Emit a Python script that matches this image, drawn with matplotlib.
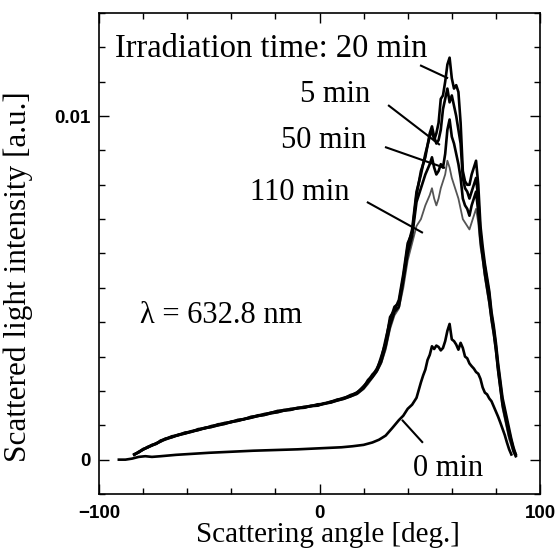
import matplotlib
matplotlib.use("Agg")
import matplotlib.pyplot as plt
from matplotlib.ticker import MultipleLocator

# ---------------- data (intensity in a.u.) ----------------
angle_irr = [-84, -82, -80, -78, -76, -74, -72, -70, -67, -64, -61, -58, -55, -52, -49, -46,
             -43, -40, -37, -34, -31, -28, -25, -22, -19, -16, -13, -10, -7, -4, -1, 2, 5, 8,
             11, 14, 17, 20, 22, 24, 26, 28, 30, 32, 34, 36,
             38, 40, 42, 44, 46, 48, 50,
             51, 52, 53, 54, 55, 56, 57, 58, 59, 60, 61, 62, 63, 64, 65, 66, 67, 68, 69, 70,
             71, 72, 73, 74, 75, 76, 77, 78, 79, 80, 81, 82, 83, 84, 85, 86, 87, 88, 89]

int_20min = [0.00015, 0.00022, 0.00031, 0.00035, 0.00043, 0.00046, 0.00056, 0.00059, 0.00068, 0.00071,
             0.00079, 0.00081, 0.00089, 0.00091, 0.00098, 0.00101, 0.00107, 0.00109, 0.00116, 0.00118,
             0.00125, 0.00127, 0.00133, 0.00136, 0.00142, 0.00143, 0.00148, 0.00149, 0.00154, 0.00155,
             0.00161, 0.00162, 0.00169, 0.00173, 0.00180, 0.00185, 0.00196, 0.00210, 0.00232, 0.00244,
             0.00265, 0.00292, 0.00350, 0.00405, 0.00445, 0.00455,
             0.00530, 0.00620, 0.00670, 0.00780, 0.00830, 0.00890, 0.00940,
             0.00960, 0.00930, 0.00950, 0.00980, 0.01050, 0.01060, 0.01100, 0.01150, 0.01170, 0.01110,
             0.01080, 0.01090, 0.01070, 0.00980, 0.00840, 0.00810, 0.00800, 0.00800, 0.00830, 0.00850,
             0.00870, 0.00800, 0.00680, 0.00620, 0.00570, 0.00530, 0.00490, 0.00430, 0.00390, 0.00340,
             0.00280, 0.00230, 0.00180, 0.00150, 0.00120, 0.00090, 0.00060, 0.00035, 0.00015]

int_5min = [0.00014, 0.00023, 0.00029, 0.00037, 0.00042, 0.00048, 0.00054, 0.00061, 0.00066, 0.00073,
            0.00077, 0.00083, 0.00087, 0.00093, 0.00096, 0.00103, 0.00105, 0.00111, 0.00114, 0.00119,
            0.00123, 0.00129, 0.00131, 0.00137, 0.00140, 0.00145, 0.00146, 0.00151, 0.00152, 0.00157,
            0.00158, 0.00164, 0.00167, 0.00175, 0.00178, 0.00188, 0.00194, 0.00214, 0.00228, 0.00248,
            0.00260, 0.00300, 0.00340, 0.00415, 0.00435, 0.00465,
            0.00540, 0.00630, 0.00660, 0.00770, 0.00840, 0.00880, 0.00950,
            0.00970, 0.00940, 0.00920, 0.00930, 0.00960, 0.01020, 0.01050, 0.01080, 0.01040, 0.01060,
            0.01030, 0.01000, 0.00960, 0.00920, 0.00820, 0.00790, 0.00780, 0.00760, 0.00780, 0.00800,
            0.00820, 0.00760, 0.00660, 0.00600, 0.00560, 0.00520, 0.00480, 0.00420, 0.00380, 0.00330,
            0.00270, 0.00220, 0.00170, 0.00140, 0.00110, 0.00080, 0.00055, 0.00030, 0.00015]

int_50min = [0.00016, 0.00021, 0.00030, 0.00036, 0.00041, 0.00047, 0.00053, 0.00060, 0.00065, 0.00072,
             0.00076, 0.00082, 0.00086, 0.00092, 0.00095, 0.00100, 0.00104, 0.00110, 0.00113, 0.00118,
             0.00122, 0.00127, 0.00130, 0.00135, 0.00138, 0.00143, 0.00145, 0.00150, 0.00151, 0.00156,
             0.00157, 0.00163, 0.00166, 0.00172, 0.00177, 0.00184, 0.00192, 0.00208, 0.00225, 0.00240,
             0.00258, 0.00285, 0.00330, 0.00390, 0.00430, 0.00445,
             0.00520, 0.00600, 0.00650, 0.00750, 0.00790, 0.00830, 0.00860,
             0.00880, 0.00850, 0.00830, 0.00840, 0.00860, 0.00850, 0.00890, 0.00960, 0.00990, 0.00940,
             0.00920, 0.00890, 0.00860, 0.00820, 0.00760, 0.00740, 0.00730, 0.00710, 0.00740, 0.00760,
             0.00780, 0.00720, 0.00640, 0.00590, 0.00540, 0.00500, 0.00460, 0.00410, 0.00370, 0.00320,
             0.00260, 0.00210, 0.00160, 0.00130, 0.00100, 0.00070, 0.00050, 0.00025, 0.00010]

int_110min = [0.00013, 0.00020, 0.00028, 0.00034, 0.00040, 0.00045, 0.00052, 0.00057, 0.00064, 0.00070,
              0.00075, 0.00080, 0.00085, 0.00090, 0.00094, 0.00099, 0.00103, 0.00108, 0.00112, 0.00117,
              0.00121, 0.00126, 0.00129, 0.00134, 0.00137, 0.00142, 0.00144, 0.00149, 0.00150, 0.00155,
              0.00156, 0.00162, 0.00165, 0.00171, 0.00176, 0.00183, 0.00190, 0.00205, 0.00220, 0.00238,
              0.00255, 0.00280, 0.00320, 0.00380, 0.00420, 0.00440,
              0.00500, 0.00580, 0.00630, 0.00680, 0.00700, 0.00740, 0.00770,
              0.00790, 0.00760, 0.00740, 0.00760, 0.00790, 0.00810, 0.00830, 0.00870, 0.00850, 0.00820,
              0.00800, 0.00780, 0.00760, 0.00730, 0.00700, 0.00690, 0.00680, 0.00670, 0.00690, 0.00710,
              0.00730, 0.00690, 0.00620, 0.00580, 0.00530, 0.00490, 0.00450, 0.00400, 0.00360, 0.00310,
              0.00250, 0.00200, 0.00150, 0.00120, 0.00090, 0.00060, 0.00040, 0.00020, 0.00010]

angle_0min = [-91, -88, -85, -82, -79, -76, -72, -65, -60, -50, -40, -30, -20, -10, 0, 10, 15, 20, 24, 27,
              30, 33, 36, 38, 40, 42, 44, 46, 47, 48, 49,
              50, 51, 52, 53, 54, 55, 56, 57, 58, 59, 60, 61, 62, 63, 64, 65, 66, 67, 68, 69,
              70, 71, 72, 73, 74, 75, 76, 77, 78, 79, 80, 81, 82, 83, 84, 85, 86, 87]
int_0min = [0.0, 0.0, 0.00003, 0.00008, 0.00010, 0.00008, 0.00010, 0.00014, 0.00016, 0.00020, 0.00023,
            0.00026, 0.00028, 0.00030, 0.00033, 0.00036, 0.00039, 0.00043, 0.00050, 0.00058,
            0.00070, 0.00092, 0.00115, 0.00128, 0.00148, 0.00160, 0.00180, 0.00225, 0.00245, 0.00262, 0.00290,
            0.00305, 0.00330, 0.00322, 0.00332, 0.00328, 0.00318, 0.00325, 0.00345, 0.00375, 0.00395,
            0.00350, 0.00345, 0.00335, 0.00320, 0.00340, 0.00325, 0.00300, 0.00295, 0.00280, 0.00272,
            0.00265, 0.00255, 0.00250, 0.00235, 0.00210, 0.00195, 0.00190, 0.00178, 0.00170, 0.00155,
            0.00140, 0.00125, 0.00108, 0.00090, 0.00072, 0.00050, 0.00030, 0.00015]

x_ticks = [-100, 0, 100]
x_tick_labels = ["\u2212100", "0", "100"]
y_ticks = [0, 0.01]
y_tick_labels = ["0", "0.01"]

# label texts: (text, x, y, ha, size)
labels = [
    ("Irradiation time: 20 min", -92.7, 0.01172, "left", 23.5),
    ("5 min", 22.9, 0.01040, "right", 22),
    ("50 min", 21.3, 0.00907, "right", 22),
    ("110 min", 13.8, 0.00756, "right", 22),
    ("\u03bb = 632.8 nm", -81.4, 0.00398, "left", 22),
    ("0 min", 42.4, -0.00049, "left", 22),
]
# pointer segments: (x1, y1, x2, y2)
pointers = [
    (45.6, 0.01148, 58.3, 0.01110),
    (31.1, 0.01032, 54.6, 0.00916),
    (29.7, 0.00910, 56.9, 0.00849),
    (21.5, 0.00750, 46.9, 0.00660),
    (37.4, 0.00116, 46.9, 0.00049),
]

# ---------------- figure ----------------
SERIF = "Liberation Serif"
SANS = "Liberation Sans"

fig = plt.figure(figsize=(5.58, 5.49), dpi=100)
ax = fig.add_axes([99 / 558, 1 - 494 / 549, 441 / 558, 481 / 549])

ax.plot(angle_irr, int_110min, color="#555555", lw=1.3)
ax.plot(angle_irr, int_50min, color="black", lw=1.9)
ax.plot(angle_irr, int_5min, color="black", lw=1.9)
ax.plot(angle_irr, int_20min, color="black", lw=1.9)
ax.plot(angle_0min, int_0min, color="black", lw=1.9)

ax.set_xlim(-100, 100)
ax.set_ylim(-0.001, 0.013)

ax.set_xticks(x_ticks, labels=x_tick_labels)
ax.set_yticks(y_ticks, labels=y_tick_labels)
ax.xaxis.set_minor_locator(MultipleLocator(20))
ax.yaxis.set_minor_locator(MultipleLocator(0.001))
ax.tick_params(which="both", direction="in", top=True, right=True, color="black", width=1.0)
ax.tick_params(which="major", length=7)
ax.tick_params(which="minor", length=4)
ax.tick_params(axis="x", which="major", pad=8)
ax.tick_params(axis="y", which="major", pad=6)
for lab in ax.get_xticklabels() + ax.get_yticklabels():
    lab.set_fontfamily(SANS)
    lab.set_fontweight("bold")
    lab.set_fontsize(13.5)

for sp in ax.spines.values():
    sp.set_linewidth(1.2)

ax.set_xlabel("Scattering angle [deg.]", fontfamily=SERIF, fontsize=21)
ax.set_ylabel("Scattered light intensity [a.u.]", fontfamily=SERIF, fontsize=22.5)
ax.xaxis.set_label_coords(0.519, -0.058)
ax.yaxis.set_label_coords(-0.150, 0.452)

for txt, x, y, ha, fs in labels:
    ax.text(x, y, txt, ha=ha, va="baseline", fontfamily=SERIF, fontsize=fs)

for x1, y1, x2, y2 in pointers:
    ax.plot([x1, x2], [y1, y2], color="black", lw=1.5, solid_capstyle="butt")

fig.savefig("out.png", dpi=100)
